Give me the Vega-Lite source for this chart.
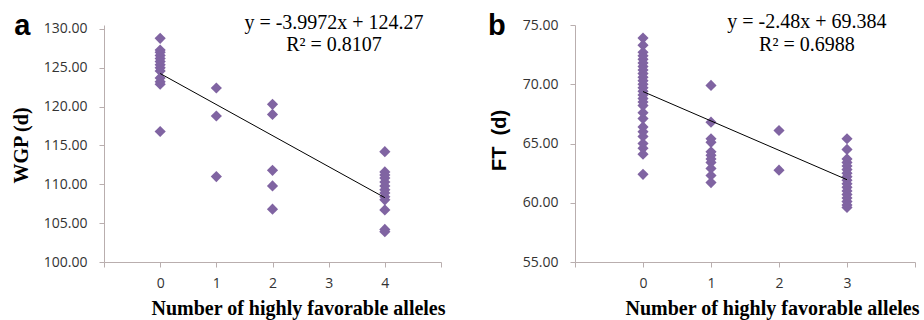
{
  "$schema": "https://vega.github.io/schema/vega-lite/v6.json",
  "autosize": {"type": "none"},
  "padding": {"left": 104, "top": 25, "right": 820, "bottom": 295},
  "background": "white",
  "bounds": "flush",
  "spacing": 134,
  "config": {
    "view": {"stroke": null},
    "axis": {
      "grid": false,
      "domainColor": "#b9aeae",
      "tickColor": "#b9aeae",
      "domainWidth": 1,
      "tickWidth": 1,
      "tickSize": 5,
      "labelFont": "Open Sans",
      "labelFontSize": 14,
      "labelColor": "#333333",
      "titleColor": "#000000"
    }
  },
  "hconcat": [
    {
      "width": 337,
      "height": 237,
      "encoding": {
        "x": {
          "field": "n", "type": "quantitative",
          "scale": {"domain": [-1, 5], "nice": false, "zero": false},
          "axis": {
            "values": [-1, 0, 1, 2, 3, 4, 5], "format": "d",
            "labelExpr": "datum.value < 0 || datum.value > 4 ? '' : datum.label",
            "labelPadding": 9,
            "title": "Number of highly favorable alleles",
            "titleFont": "Liberation Serif", "titleFontWeight": "bold", "titleFontSize": 20,
            "titleX": 194, "titleY": 52, "titleBaseline": "alphabetic", "titleAlign": "center"
          }
        },
        "y": {
          "field": "v", "type": "quantitative",
          "scale": {"domain": [100, 130.515], "nice": false, "zero": false},
          "axis": {
            "values": [100, 105, 110, 115, 120, 125, 130], "format": ".2f",
            "labelPadding": 12,
            "title": "WGP (d)",
            "titleFont": "Liberation Serif", "titleFontWeight": "bold", "titleFontSize": 20,
            "titleX": -82.5, "titleY": 120, "titleBaseline": "middle", "titleAlign": "center", "titleAngle": -90
          }
        }
      },
      "layer": [
        {
          "data": {"values": [
            {"n": 0, "v": 128.8}, {"n": 0, "v": 127.3}, {"n": 0, "v": 127.0}, {"n": 0, "v": 126.6},
            {"n": 0, "v": 126.2}, {"n": 0, "v": 125.8}, {"n": 0, "v": 125.4}, {"n": 0, "v": 125.0},
            {"n": 0, "v": 124.6}, {"n": 0, "v": 123.7}, {"n": 0, "v": 123.2}, {"n": 0, "v": 122.9},
            {"n": 0, "v": 116.8},
            {"n": 1, "v": 122.4}, {"n": 1, "v": 118.8}, {"n": 1, "v": 111.0},
            {"n": 2, "v": 120.3}, {"n": 2, "v": 119.0}, {"n": 2, "v": 111.8}, {"n": 2, "v": 109.8}, {"n": 2, "v": 106.8},
            {"n": 4, "v": 114.2}, {"n": 4, "v": 111.6}, {"n": 4, "v": 111.2}, {"n": 4, "v": 110.8},
            {"n": 4, "v": 110.3}, {"n": 4, "v": 109.8}, {"n": 4, "v": 109.3}, {"n": 4, "v": 108.9},
            {"n": 4, "v": 108.4}, {"n": 4, "v": 108.0}, {"n": 4, "v": 106.7}, {"n": 4, "v": 104.2},
            {"n": 4, "v": 103.9}
          ]},
          "mark": {"type": "point", "shape": "diamond", "filled": true, "size": 125, "color": "#8064A2", "opacity": 1}
        },
        {
          "data": {"values": [{"n": 0, "v": 124.27}, {"n": 4, "v": 108.2812}]},
          "mark": {"type": "line", "color": "#000000", "strokeWidth": 1}
        },
        {
          "data": {"values": [{"n": 3.095, "v": 130.0, "label": "y = -3.9972x + 124.27\nR² = 0.8107"}]},
          "mark": {"type": "text", "font": "Liberation Serif", "fontSize": 20, "lineHeight": 22.5, "lineBreak": "\n", "align": "center", "baseline": "alphabetic", "color": "#000000"},
          "encoding": {"text": {"field": "label", "type": "nominal"}}
        },
        {
          "data": {"values": [{"n": -2.6, "v": 129.23, "label": "a"}]},
          "mark": {"type": "text", "font": "Liberation Sans", "fontWeight": "bold", "fontSize": 29, "align": "left", "baseline": "alphabetic", "color": "#000000"},
          "encoding": {"text": {"field": "label", "type": "nominal"}}
        }
      ]
    },
    {
      "width": 340,
      "height": 237,
      "encoding": {
        "x": {
          "field": "n", "type": "quantitative",
          "scale": {"domain": [-1, 4], "nice": false, "zero": false},
          "axis": {
            "values": [-1, 0, 1, 2, 3, 4], "format": "d",
            "labelExpr": "datum.value < 0 || datum.value > 3 ? '' : datum.label",
            "labelPadding": 9,
            "title": "Number of highly favorable alleles",
            "titleFont": "Liberation Serif", "titleFontWeight": "bold", "titleFontSize": 20,
            "titleX": 197, "titleY": 52, "titleBaseline": "alphabetic", "titleAlign": "center"
          }
        },
        "y": {
          "field": "v", "type": "quantitative",
          "scale": {"domain": [55, 75], "nice": false, "zero": false},
          "axis": {
            "values": [55, 60, 65, 70, 75], "format": ".2f",
            "labelPadding": 12,
            "title": "FT \u00a0(d)",
            "titleFont": "Liberation Sans", "titleFontWeight": "bold", "titleFontSize": 20,
            "titleX": -76, "titleY": 115, "titleBaseline": "middle", "titleAlign": "center", "titleAngle": -90
          }
        }
      },
      "layer": [
        {
          "data": {"values": [
            {"n": 0, "v": 73.9}, {"n": 0, "v": 73.3}, {"n": 0, "v": 72.7}, {"n": 0, "v": 72.4},
            {"n": 0, "v": 72.1}, {"n": 0, "v": 71.8}, {"n": 0, "v": 71.5}, {"n": 0, "v": 71.2},
            {"n": 0, "v": 70.9}, {"n": 0, "v": 70.6}, {"n": 0, "v": 70.3}, {"n": 0, "v": 70.0},
            {"n": 0, "v": 69.7}, {"n": 0, "v": 69.4}, {"n": 0, "v": 69.1}, {"n": 0, "v": 68.8},
            {"n": 0, "v": 68.5}, {"n": 0, "v": 68.2}, {"n": 0, "v": 67.6}, {"n": 0, "v": 67.1},
            {"n": 0, "v": 66.4}, {"n": 0, "v": 66.0}, {"n": 0, "v": 65.6}, {"n": 0, "v": 65.0},
            {"n": 0, "v": 64.6}, {"n": 0, "v": 64.1}, {"n": 0, "v": 62.4},
            {"n": 1, "v": 69.9}, {"n": 1, "v": 66.8}, {"n": 1, "v": 65.4}, {"n": 1, "v": 65.1},
            {"n": 1, "v": 64.3}, {"n": 1, "v": 64.0}, {"n": 1, "v": 63.7}, {"n": 1, "v": 63.4},
            {"n": 1, "v": 62.9}, {"n": 1, "v": 62.3}, {"n": 1, "v": 61.7},
            {"n": 2, "v": 66.1}, {"n": 2, "v": 62.75},
            {"n": 3, "v": 65.4}, {"n": 3, "v": 64.5}, {"n": 3, "v": 63.7}, {"n": 3, "v": 63.4},
            {"n": 3, "v": 63.1}, {"n": 3, "v": 62.8}, {"n": 3, "v": 62.5}, {"n": 3, "v": 62.2},
            {"n": 3, "v": 61.9}, {"n": 3, "v": 61.6}, {"n": 3, "v": 61.3}, {"n": 3, "v": 61.0},
            {"n": 3, "v": 60.7}, {"n": 3, "v": 60.4}, {"n": 3, "v": 60.1}, {"n": 3, "v": 59.8},
            {"n": 3, "v": 59.6}
          ]},
          "mark": {"type": "point", "shape": "diamond", "filled": true, "size": 125, "color": "#8064A2", "opacity": 1}
        },
        {
          "data": {"values": [{"n": 0, "v": 69.384}, {"n": 3, "v": 61.944}]},
          "mark": {"type": "line", "color": "#000000", "strokeWidth": 1}
        },
        {
          "data": {"values": [{"n": 2.41, "v": 74.72, "label": "y = -2.48x + 69.384\nR² = 0.6988"}]},
          "mark": {"type": "text", "font": "Liberation Serif", "fontSize": 20, "lineHeight": 22.5, "lineBreak": "\n", "align": "center", "baseline": "alphabetic", "color": "#000000"},
          "encoding": {"text": {"field": "label", "type": "nominal"}}
        },
        {
          "data": {"values": [{"n": -2.28, "v": 74.16, "label": "b"}]},
          "mark": {"type": "text", "font": "Liberation Sans", "fontWeight": "bold", "fontSize": 29, "align": "left", "baseline": "alphabetic", "color": "#000000"},
          "encoding": {"text": {"field": "label", "type": "nominal"}}
        }
      ]
    }
  ]
}
